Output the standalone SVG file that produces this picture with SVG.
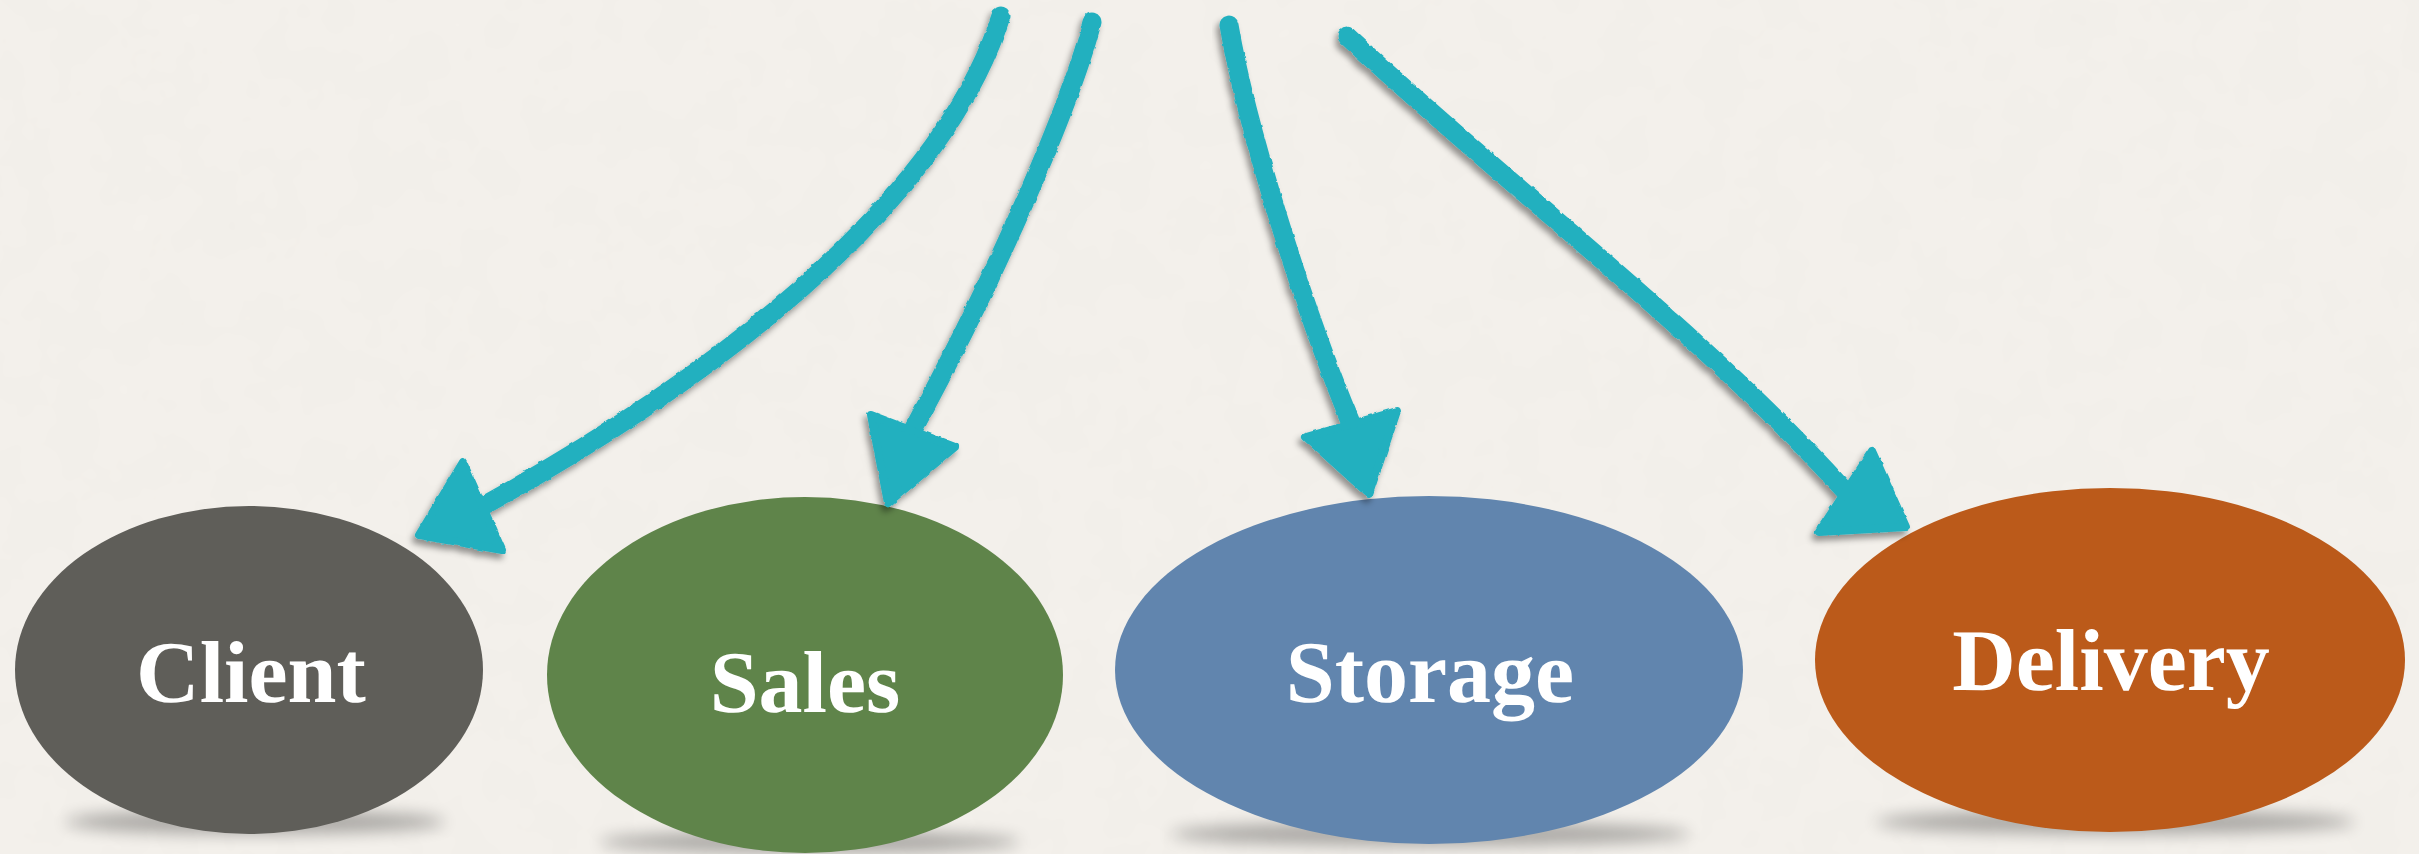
<svg xmlns="http://www.w3.org/2000/svg" width="2419" height="854" viewBox="0 0 2419 854">
  <defs>
    <filter id="rough" x="-10%" y="-10%" width="120%" height="120%">
      <feTurbulence type="fractalNoise" baseFrequency="0.12" numOctaves="2" seed="3" result="n"/>
      <feDisplacementMap in="SourceGraphic" in2="n" scale="3" xChannelSelector="R" yChannelSelector="G" result="d"/>
      <feDropShadow dx="-3" dy="5" stdDeviation="3" flood-color="#000" flood-opacity="0.4"/>
    </filter>
    <filter id="soft" x="-30%" y="-200%" width="160%" height="500%">
      <feGaussianBlur stdDeviation="8"/>
    </filter>
    <filter id="paper" x="0" y="0" width="100%" height="100%">
      <feTurbulence type="fractalNoise" baseFrequency="0.02" numOctaves="3" seed="7" result="t"/>
      <feColorMatrix in="t" type="matrix" values="0 0 0 0 0.5  0 0 0 0 0.48  0 0 0 0 0.45  0 0 0 0.05 0"/>
    </filter>
  </defs>
  <style>
    .bg { fill: #f4f1ec; }
    .shadow { fill: #000; opacity: 0.3; filter: url(#soft); }
    .label { font-family: "Liberation Serif", "Times New Roman", serif; font-weight: bold; font-size: 88px; fill: #ffffff; text-anchor: middle; text-rendering: geometricPrecision; }
    .shaft { fill: none; stroke: #22b0bf; stroke-width: 19; stroke-linecap: round; }
    .head { fill: #22b0bf; stroke: #22b0bf; stroke-width: 8; stroke-linejoin: round; }
    .arrow { filter: url(#rough); }
  </style>
  <rect class="bg" x="0" y="0" width="2419" height="854"/>
  <rect x="0" y="0" width="2419" height="854" filter="url(#paper)"/>

  <g id="client">
    <ellipse class="shadow" cx="255" cy="822" rx="190" ry="12"/>
    <ellipse cx="249" cy="670" rx="234" ry="164" fill="#5f5e59"/>
    <text class="label" x="251" y="702">Client</text>
  </g>
  <g id="sales">
    <ellipse class="shadow" cx="810" cy="842" rx="210" ry="11"/>
    <ellipse cx="805" cy="675" rx="258" ry="178" fill="#5f844a"/>
    <text class="label" x="805" y="712">Sales</text>
  </g>
  <g id="storage">
    <ellipse class="shadow" cx="1430" cy="834" rx="260" ry="12"/>
    <ellipse cx="1429" cy="670" rx="314" ry="174" fill="#6185ae"/>
    <text class="label" x="1430" y="702">Storage</text>
  </g>
  <g id="delivery">
    <ellipse class="shadow" cx="2115" cy="822" rx="240" ry="12"/>
    <ellipse cx="2110" cy="660" rx="295" ry="172" fill="#bb5a1a"/>
    <text class="label" x="2111" y="690">Delivery</text>
  </g>

  <g id="connectors">
    <g class="arrow">
      <path class="shaft" d="M1001,16 C955,160 800,330 483,506"/>
      <polygon class="head" points="463,462 419,535 502,550"/>
    </g>
    <g class="arrow">
      <path class="shaft" d="M1092,22 C1075,90 1010,250 913,430"/>
      <polygon class="head" points="871,415 955,447 888,503"/>
    </g>
    <g class="arrow">
      <path class="shaft" d="M1229,25 C1245,120 1300,300 1351,423"/>
      <polygon class="head" points="1306,437 1397,411 1369,494"/>
    </g>
    <g class="arrow">
      <path class="shaft" d="M1347,36 C1500,180 1700,330 1845,491"/>
      <polygon class="head" points="1872,451 1819,532 1906,527"/>
    </g>
  </g>
</svg>
